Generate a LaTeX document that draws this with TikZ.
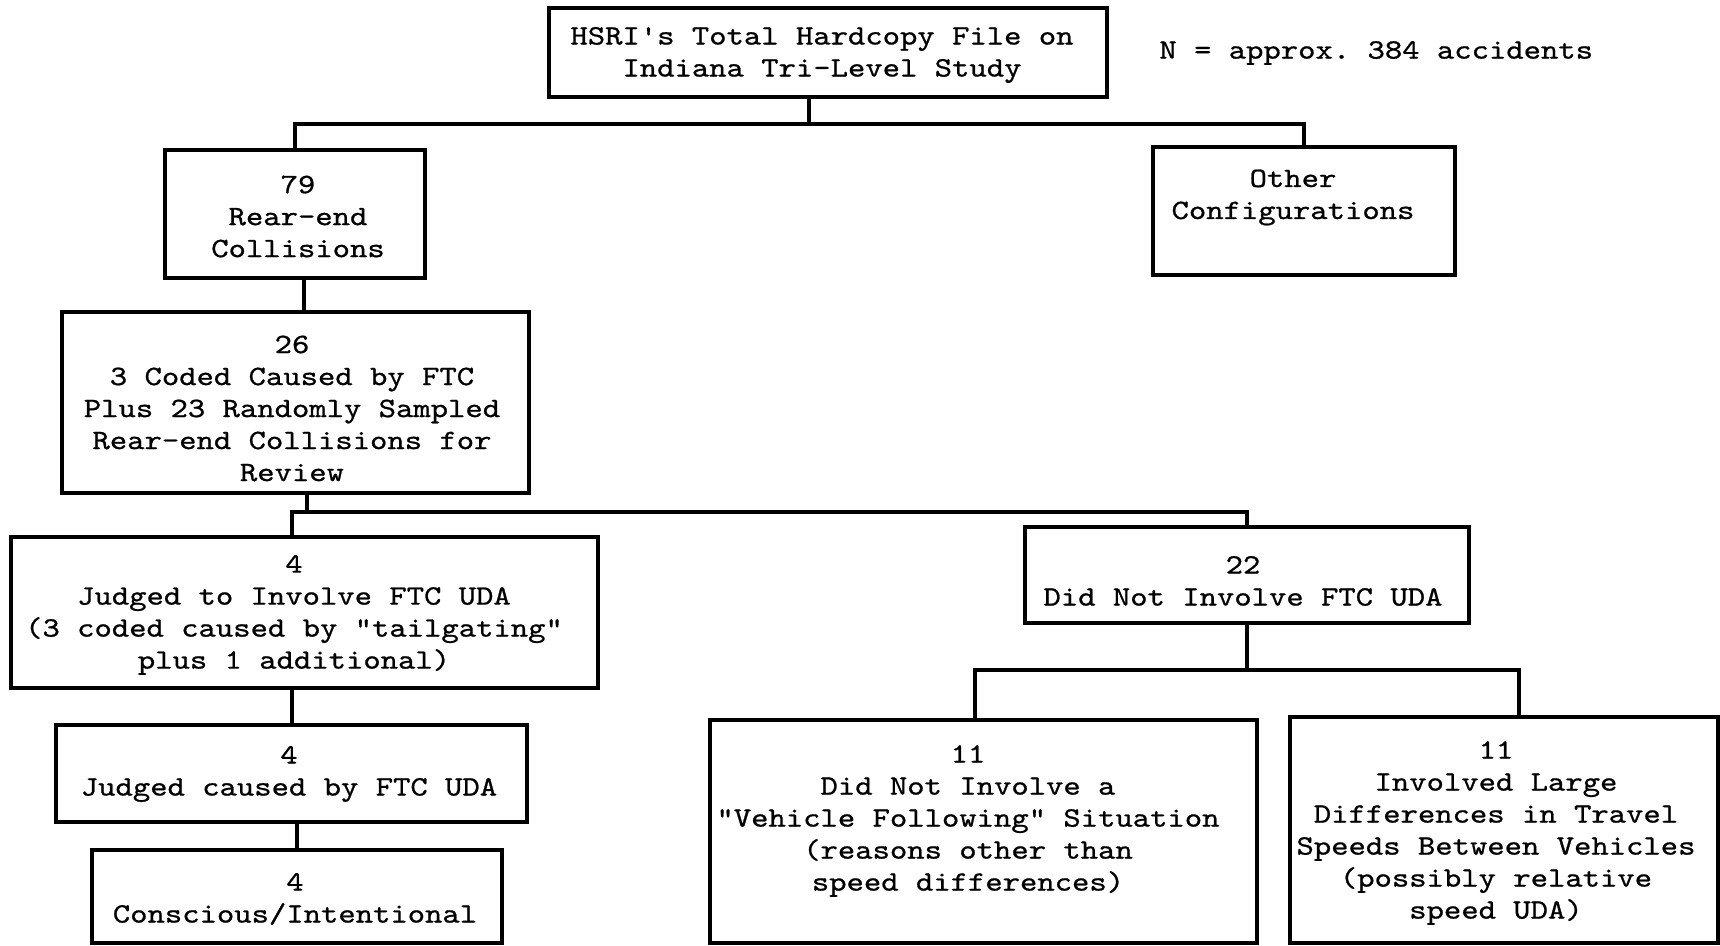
\documentclass[tikz,border=0pt]{standalone}
\usepackage{fontspec}
\setmonofont{lmmono10-regular.otf}[FakeStretch=1.18,FakeBold=0.8]
\begin{document}
\begin{tikzpicture}[x=0.5pt,y=-0.5pt]
\tikzset{
  box/.style={draw, line width=2.25pt, rectangle, inner sep=0pt},
  txt/.style={font=\ttfamily\fontsize{14}{16}\selectfont, align=center, inner sep=0pt},
  conn/.style={line width=2pt}
}
\useasboundingbox (0,0) rectangle (1720,946);
% boxes
\node[box, minimum width=279pt, minimum height=44.5pt] (top) at (828,52.5) {};
\node[box, minimum width=130pt, minimum height=64pt] (rear) at (295,214) {};
\node[box, minimum width=151pt, minimum height=64pt] (other) at (1304,211) {};
\node[box, minimum width=233.5pt, minimum height=90.5pt] (b26) at (295.5,402.5) {};
\node[box, minimum width=293.5pt, minimum height=75.5pt] (b4) at (304.5,612.5) {};
\node[box, minimum width=222pt, minimum height=48pt] (b22) at (1247,575) {};
\node[box, minimum width=235.5pt, minimum height=48.5pt] (jc) at (291.5,773.5) {};
\node[box, minimum width=205pt, minimum height=46.5pt] (con) at (297,896.5) {};
\node[box, minimum width=273.5pt, minimum height=111.5pt] (e11a) at (983.5,831.5) {};
\node[box, minimum width=214pt, minimum height=113pt] (e11b) at (1504,830) {};
% texts
\node[txt] (ttop) at (822,55) {HSRI's Total Hardcopy File on\\Indiana Tri-Level Study};
\node[txt, anchor=west] (tn) at (1159,53) {N = approx. 384 accidents};
\node[txt] (trear) at (298,216.5) {79\\Rear-end\\Collisions};
\node[txt] (tother) at (1293,197.5) {Other\\Configurations};
\node[txt] (t26) at (292,408.5) {26\\3 Coded Caused by FTC\\Plus 23 Randomly Sampled\\Rear-end Collisions for\\Review};
\node[txt] (t4) at (294,615) {4\\Judged to Involve FTC UDA\\(3 coded caused by "tailgating"\\plus 1 additional)};
\node[txt] (t22) at (1243,581) {22\\Did Not Involve FTC UDA};
\node[txt] (tjc) at (289,774) {4\\Judged caused by FTC UDA};
\node[txt] (tcon) at (295,899) {4\\Conscious/Intentional};
\node[txt] (t11a) at (968,821) {11\\Did Not Involve a\\"Vehicle Following" Situation\\(reasons other than\\speed differences)};
\node[txt] (t11b) at (1496,833) {11\\Involved Large\\Differences in Travel\\Speeds Between Vehicles\\(possibly relative\\speed UDA)};
% connectors
\draw[conn] ([xshift=-9.5pt]top.south) -- ++(0,25) coordinate (j1);
\draw[conn] (rear.north) |- (j1) -| (other.north);
\draw[conn] ([xshift=4.5pt]rear.south) -- ([xshift=4.5pt]rear.south |- b26.north);
\draw[conn] ([xshift=5.75pt]b26.south) -- ++(0,17) coordinate (j2);
\draw[conn] ([xshift=-6.25pt]b4.north) |- (j2) -| (b22.north);
\draw[conn] (jc.north) -- (jc.north |- b4.south);
\draw[conn] (con.north) -- (con.north |- jc.south);
\draw[conn] (b22.south) -- ++(0,45) coordinate (j3);
\draw[conn] ([xshift=-4.25pt]e11a.north) |- (j3) -| ([xshift=7.5pt]e11b.north);
\end{tikzpicture}
\end{document}
